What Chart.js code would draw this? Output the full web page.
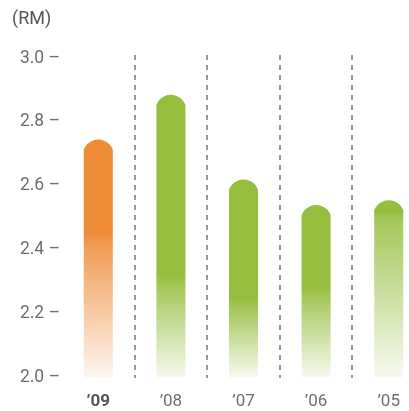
<!DOCTYPE html>
<html>
<head>
<meta charset="utf-8">
<script src="https://cdn.jsdelivr.net/npm/chart.js@4/dist/chart.umd.min.js"></script>
<style>
  html, body { margin: 0; padding: 0; background: #fff; overflow: hidden; width: 409px; height: 411px; }
  #wrap { position: relative; width: 425px; height: 411px; }
  #unit { position: absolute; left: 12px; top: 7px; font: 18px Roboto, sans-serif; color: #555; }
  canvas { display: block; }
</style>
</head>
<body>
<div id="wrap">
  <canvas id="c" width="425" height="411"></canvas>
  <div id="unit">(RM)</div>
</div>
<script>
// ---- data ----
const categories = ['\u201909', '\u201908', '\u201907', '\u201906', '\u201905'];
const values = [2.745, 2.885, 2.62, 2.54, 2.555];
const yTicks = [2.0, 2.2, 2.4, 2.6, 2.8, 3.0];

// ---- style ----
const barRGB = ['238,139,55', '149,190,62', '149,190,62', '149,190,62', '149,190,62'];
const solidUntil = [0.39, 0.63, 0.6, 0.48, 0.06];
const domeH = 10;

const domeBars = {
  id: 'domeBars',
  afterDatasetsDraw(chart) {
    const ctx = chart.ctx;
    const yScale = chart.scales.y;
    const base = yScale.getPixelForValue(yScale.min);
    const meta = chart.getDatasetMeta(0);
    meta.data.forEach((bar, i) => {
      const p = bar.getProps(['x', 'y', 'width'], true);
      const half = p.width / 2;
      const l = p.x - half, r = p.x + half;
      const R = (half * half + domeH * domeH) / (2 * domeH);
      const a1 = Math.atan2(domeH - R, -half);
      const a2 = Math.atan2(domeH - R, half);
      const g = ctx.createLinearGradient(0, p.y, 0, base);
      const c = barRGB[i];
      const s = solidUntil[i];
      g.addColorStop(0, 'rgba(' + c + ',1)');
      g.addColorStop(s, 'rgba(' + c + ',1)');
      g.addColorStop(Math.min(s + 0.05, 1), 'rgba(' + c + ',0.86)');
      g.addColorStop(1, 'rgba(' + c + ',0.08)');
      ctx.save();
      ctx.beginPath();
      ctx.moveTo(l, base);
      ctx.lineTo(l, p.y + domeH);
      ctx.arc(p.x, p.y + R, R, a1, a2, false);
      ctx.lineTo(r, base);
      ctx.closePath();
      ctx.fillStyle = g;
      ctx.fill();
      ctx.restore();
    });
  }
};

new Chart(document.getElementById('c'), {
  type: 'bar',
  data: {
    labels: categories,
    datasets: [{
      data: values,
      base: 2.0,
      backgroundColor: 'rgba(0,0,0,0)',
      borderWidth: 0,
      barPercentage: 0.4,
      categoryPercentage: 1.0
    }]
  },
  options: {
    responsive: false,
    animation: false,
    events: [],
    layout: { padding: { top: 55, right: 0, bottom: 0, left: 0 } },
    plugins: { legend: { display: false }, tooltip: { enabled: false }, title: { display: false } },
    scales: {
      x: {
        afterFit: (scale) => { scale.height = 33.5; },
        grid: {
          offset: true,
          drawTicks: false,
          lineWidth: 2,
          color: (ctx) => (ctx.index >= 1 && ctx.index <= 4) ? '#999999' : 'rgba(0,0,0,0)'
        },
        border: { display: false, dash: [5, 5] },
        ticks: {
          padding: 14,
          maxRotation: 0,
          autoSkip: false,
          color: (ctx) => ctx.index === 0 ? '#555' : '#6e6e6e',
          font: (ctx) => ({ family: 'Roboto', size: 17, weight: ctx.index === 0 ? 'bold' : 'normal' })
        }
      },
      y: {
        min: 2.0,
        max: 3.01,
        afterBuildTicks: (scale) => { scale.ticks = yTicks.map(v => ({ value: v })); },
        afterFit: (scale) => { scale.width = 62; },
        grid: { display: false, drawTicks: false },
        border: { display: false },
        ticks: {
          padding: 2,
          color: '#6e6e6e',
          font: { family: 'Roboto', size: 17.5 },
          callback: (v) => Number(v).toFixed(1) + ' \u2013'
        }
      }
    }
  },
  plugins: [domeBars]
});
</script>
</body>
</html>
